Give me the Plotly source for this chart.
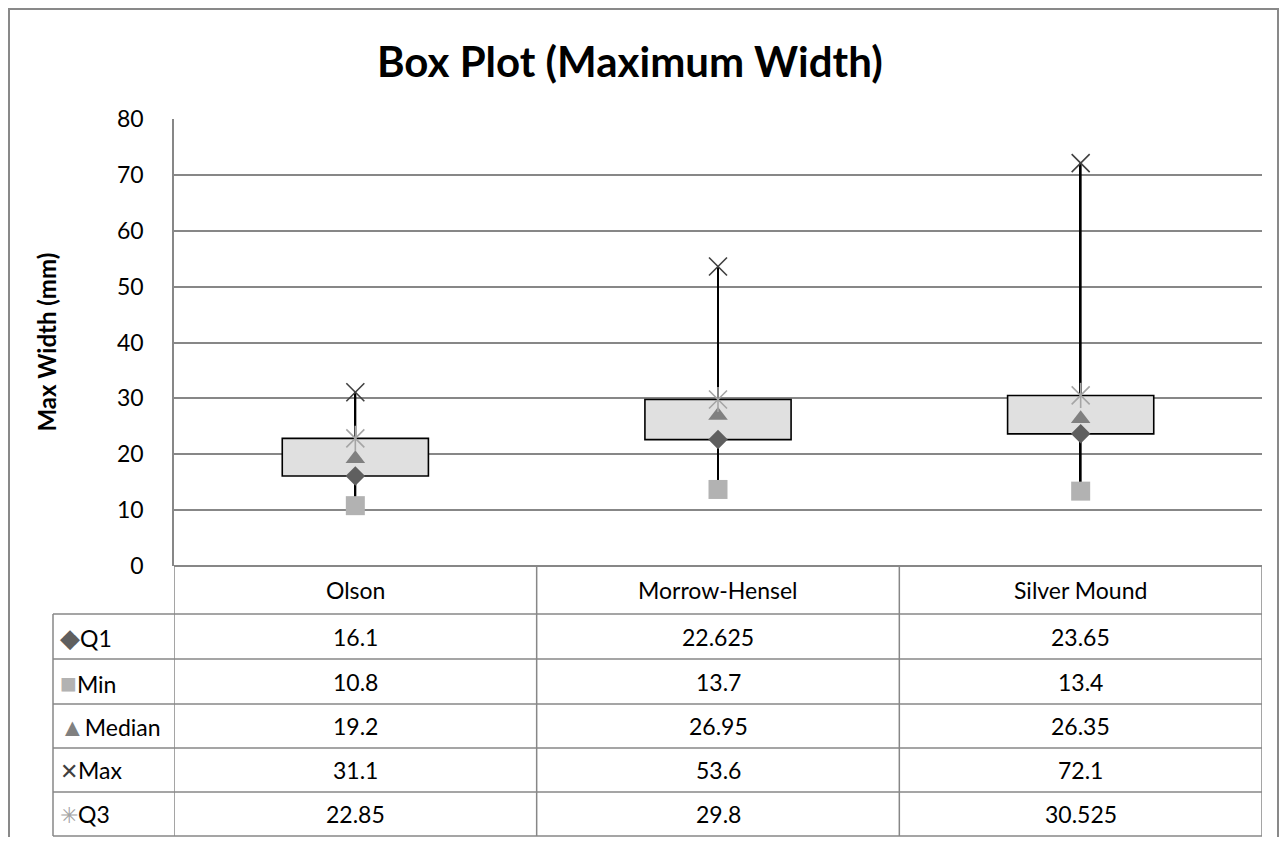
import plotly.graph_objects as go

# ---------------- data ----------------
categories = ["Olson", "Morrow-Hensel", "Silver Mound"]
q1 = [16.1, 22.625, 23.65]
vmin = [10.8, 13.7, 13.4]
median = [19.2, 26.95, 26.35]
vmax = [31.1, 53.6, 72.1]
q3 = [22.85, 29.8, 30.525]
series_names = ["Q1", "Min", "Median", "Max", "Q3"]
y_ticks = [0, 10, 20, 30, 40, 50, 60, 70, 80]

title_text = "Box Plot (Maximum Width)"
y_title = "Max Width (mm)"

FONT = "Lato, 'Open Sans', sans-serif"
OFF = 8                     # page body margin
W, H = 1287 - 2 * OFF, 845 - 2 * OFF
L, R, T, B = 174, 1262, 119, 566  # plot area in page pixels


def px(xp):
    return (xp - L) / (R - L)


def py(yp):
    return (B - yp) / (B - T)


idx = list(range(len(categories)))

fig = go.Figure()

# whiskers (min -> max)
fig.add_trace(go.Bar(
    x=idx, base=vmin, y=[b - a for a, b in zip(vmin, vmax)],
    width=0.0055, marker=dict(color="black", line=dict(width=0)),
    hoverinfo="skip"))

# boxes (Q1 -> Q3)
fig.add_trace(go.Bar(
    x=idx, base=q1, y=[b - a for a, b in zip(q1, q3)],
    width=0.403, marker=dict(color="#E0E0E0", line=dict(color="black", width=1.6)),
    hoverinfo="skip"))

# markers
fig.add_trace(go.Scatter(x=idx, y=vmin, mode="markers", name="Min",
                         marker=dict(symbol="square", size=19, color="#B2B2B2")))
fig.add_trace(go.Scatter(x=idx, y=q1, mode="markers", name="Q1",
                         marker=dict(symbol="diamond", size=15, color="#5F5F5F")))
fig.add_trace(go.Scatter(x=idx, y=median, mode="markers", name="Median",
                         marker=dict(symbol="triangle-up", size=17, color="#808080")))
fig.add_trace(go.Scatter(x=idx, y=vmax, mode="markers", name="Max",
                         marker=dict(symbol="x-thin-open", size=18, color="#404040",
                                     line=dict(color="#404040", width=1.6))))
fig.add_trace(go.Scatter(x=idx, y=q3, mode="markers", name="Q3",
                         marker=dict(symbol="x-thin-open", size=18, color="#A5A5A5",
                                     line=dict(color="#A5A5A5", width=1.6))))
fig.add_trace(go.Scatter(x=idx, y=q3, mode="markers", name="Q3",
                         showlegend=False,
                         marker=dict(symbol="line-ns-open", size=18, color="#A5A5A5",
                                     line=dict(color="#A5A5A5", width=1.6))))

GRID = "#878787"
shapes = []
annotations = []

# outer chart frame
shapes.append(dict(type="rect", xref="paper", yref="paper",
                   x0=px(9), x1=px(1278), y0=py(9), y1=py(880),
                   line=dict(color="#898989", width=2), layer="below"))

# data table
row_lines = [614, 659, 704, 748, 792, 836]
row_centers = [(row_lines[i] + row_lines[i + 1]) / 2 for i in range(5)]
for yl in row_lines:
    shapes.append(dict(type="line", xref="paper", yref="paper",
                       x0=px(53), x1=1, y0=py(yl), y1=py(yl),
                       line=dict(color=GRID, width=1.5)))
for k in range(len(categories) + 1):
    shapes.append(dict(type="line", xref="x", yref="paper",
                       x0=k - 0.5, x1=k - 0.5, y0=0, y1=py(836),
                       line=dict(color=GRID, width=1.5)))
shapes.append(dict(type="line", xref="paper", yref="paper",
                   x0=px(53), x1=px(53), y0=py(614), y1=py(836),
                   line=dict(color=GRID, width=1.5)))

TXT = 23
# header labels
for k, c in enumerate(categories):
    annotations.append(dict(x=k, y=py(590), xref="x", yref="paper",
                            text=c, showarrow=False, xanchor="center", yanchor="middle",
                            font=dict(family=FONT, size=TXT, color="black")))

series_values = [q1, vmin, median, vmax, q3]
legend_glyphs = [("◆", "#5F5F5F", 26), ("■", "#B2B2B2", 28), ("▲", "#808080", 25),
                 ("✕", "#404040", 22), ("✳", "#A5A5A5", 22)]
for r, (name, vals) in enumerate(zip(series_names, series_values)):
    yc = py(row_centers[r])
    g, col, gs = legend_glyphs[r]
    annotations.append(dict(x=px(58), y=yc, xref="paper", yref="paper",
                            text=f"<span style='color:{col};font-size:{gs}px'>{g}</span>{name}",
                            showarrow=False, xanchor="left", yanchor="middle",
                            font=dict(family=FONT, size=TXT, color="black")))
    for k, v in enumerate(vals):
        annotations.append(dict(x=k, y=yc, xref="x", yref="paper",
                                text=str(v), showarrow=False, xanchor="center",
                                yanchor="middle",
                                font=dict(family=FONT, size=TXT, color="black")))

# chart title
annotations.append(dict(x=px(630), y=py(61), xref="paper", yref="paper",
                        text=f"<b>{title_text}</b>", showarrow=False,
                        xanchor="center", yanchor="middle",
                        font=dict(family=FONT, size=42, color="black")))
# y-axis title
annotations.append(dict(x=px(46), y=0.5, xref="paper", yref="paper",
                        text=f"<b>{y_title}</b>", showarrow=False, textangle=-90,
                        xanchor="center", yanchor="middle",
                        font=dict(family=FONT, size=24, color="black")))

fig.update_layout(
    width=W, height=H,
    margin=dict(l=L - OFF, r=W - (R - OFF), t=T - OFF, b=H - (B - OFF), pad=0),
    paper_bgcolor="white", plot_bgcolor="white",
    barmode="overlay", showlegend=False,
    shapes=shapes, annotations=annotations,
    xaxis=dict(range=[-0.5, len(categories) - 0.5], showticklabels=False,
               showgrid=False, zeroline=False, showline=False, fixedrange=True),
    yaxis=dict(range=[0, 80], tickvals=y_ticks, showgrid=True, gridcolor=GRID,
               gridwidth=1.5, zeroline=True, zerolinecolor=GRID, zerolinewidth=1.5,
               showline=True, linecolor=GRID, linewidth=1.5,
               ticks="", ticklabelstandoff=24,
               tickfont=dict(family=FONT, size=TXT, color="black"), fixedrange=True),
)

fig.write_html("out.html")
